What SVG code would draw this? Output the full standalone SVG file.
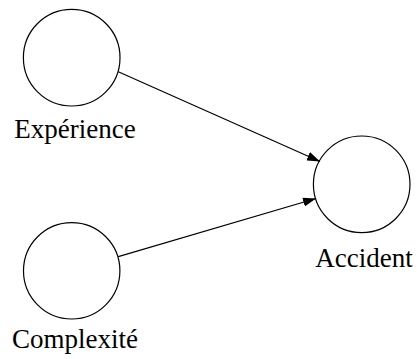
<svg xmlns="http://www.w3.org/2000/svg" width="417" height="359" viewBox="0 0 417 359">
<style>
.node circle{fill:none;stroke:#000;stroke-width:1.2}
.edge line{stroke:#000;stroke-width:1.2}
</style>
<defs>
<marker id="ah" markerUnits="userSpaceOnUse" markerWidth="13" markerHeight="9" refX="13" refY="4.5" orient="auto" viewBox="0 0 13 9">
<path d="M0,0 L13,4.5 L0,9 z" fill="#000"/>
</marker>
</defs>
<rect width="417" height="359" fill="#fff"/>
<g id="connectors" class="edge">
<line x1="118.3" y1="71.7" x2="320" y2="161.5" marker-end="url(#ah)"/>
<line x1="118.3" y1="256.7" x2="316" y2="198.5" marker-end="url(#ah)"/>
</g>
<g font-family="Liberation Serif" font-size="27" text-anchor="middle" fill="#000">
<g id="experience" class="node">
<circle cx="71.7" cy="57.7" r="48.3"/>
<text x="75" y="138.3">Expérience</text>
</g>
<g id="complexite" class="node">
<circle cx="71.7" cy="270.8" r="48.2"/>
<text x="75" y="348.3">Complexité</text>
</g>
<g id="accident" class="node">
<circle cx="361.7" cy="184.3" r="48.3"/>
<text x="364" y="266.7">Accident</text>
</g>
</g>
</svg>
